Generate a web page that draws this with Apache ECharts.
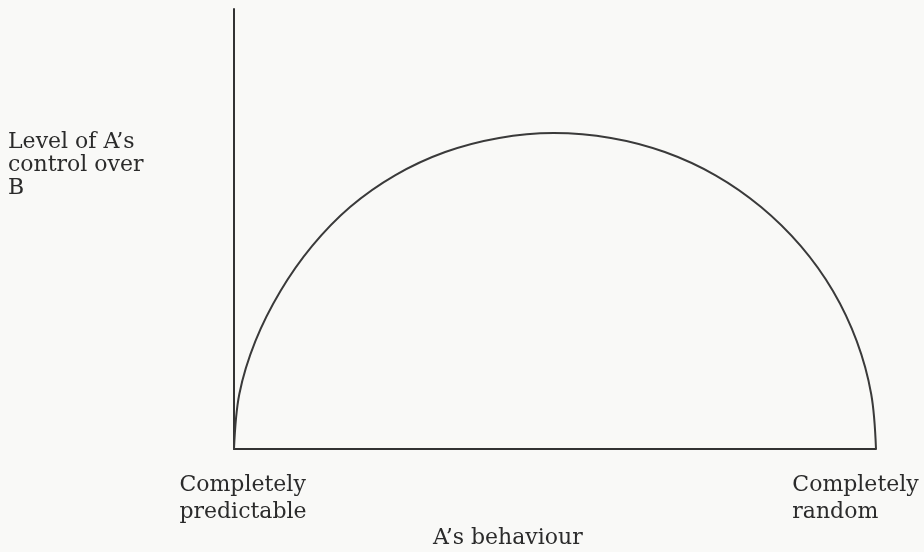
<!DOCTYPE html>
<html>
<head>
<meta charset="utf-8">
<script src="https://cdn.jsdelivr.net/npm/echarts@6/dist/echarts.min.js"></script>
<style>
  html, body { margin: 0; padding: 0; background: #f9f9f7; }
  #chart { width: 924px; height: 552px; }
</style>
</head>
<body>
<div id="chart"></div>
<script>
// Points along the control curve: A's behaviour (0 = predictable, 100 = random)
const behaviour = [0, 0.83, 3.33, 7.24, 12.15, 18.08, 25.08, 32.9, 41.3, 49.8,
                   58.7, 67.1, 75.0, 82.1, 88.3, 93.3, 97.0, 99.25, 100];
const control   = [0, 12.5, 24.5, 35.9, 46.1, 55.0, 62.2, 67.5, 70.7, 71.8,
                   70.7, 67.5, 62.2, 55.0, 46.1, 35.9, 24.5, 12.5, 0];

// End-of-axis tick labels
const tickValues = [0, 100];
const tickLabels = ['Completely\npredictable', 'Completely\nrandom'];

const yTitle = 'Level of A’s\ncontrol over\nB';
const xTitle = 'A’s behaviour';

const FONT = 'DejaVu Serif';
const INK = '#2b2b2b';

const chart = echarts.init(document.getElementById('chart'), null, { renderer: 'canvas' });

chart.setOption({
  backgroundColor: '#f9f9f7',
  animation: false,
  grid: { left: 234, right: 48, top: 9, bottom: 103, containLabel: false, outerBoundsMode: 'none' },
  xAxis: {
    type: 'value',
    min: 0,
    max: 100,
    interval: 100,
    axisLine: { show: true, lineStyle: { color: '#333', width: 2 } },
    axisTick: { show: false },
    splitLine: { show: false },
    axisLabel: {
      margin: 23,
      hideOverlap: false,
      formatter: function (v) {
        const i = tickValues.indexOf(v);
        if (i < 0) return '';
        const tag = i === 0 ? 'l' : 'r';
        return tickLabels[i].split('\n').map(s => '{' + tag + '|' + s + '}').join('\n');
      },
      rich: {
        l: { fontFamily: FONT, fontSize: 22, color: INK, lineHeight: 27, align: 'left', padding: [0, 0, 0, 18] },
        r: { fontFamily: FONT, fontSize: 22, color: INK, lineHeight: 27, align: 'left', padding: [0, 41, 0, 0] }
      }
    }
  },
  yAxis: {
    type: 'value',
    min: 0,
    max: 100,
    axisLine: { show: true, lineStyle: { color: '#333', width: 2 } },
    axisTick: { show: false },
    axisLabel: { show: false },
    splitLine: { show: false }
  },
  graphic: [
    {
      type: 'text',
      left: 8,
      top: 131,
      style: { text: yTitle, font: '22px "' + FONT + '"', fill: INK, lineHeight: 23 }
    },
    {
      type: 'text',
      left: 433,
      top: 527,
      style: { text: xTitle, font: '22px "' + FONT + '"', fill: INK }
    }
  ],
  series: [{
    type: 'line',
    data: behaviour.map((x, i) => [x, control[i]]),
    smooth: 0.35,
    showSymbol: false,
    lineStyle: { color: '#3a3a3a', width: 2 }
  }]
});
</script>
</body>
</html>
